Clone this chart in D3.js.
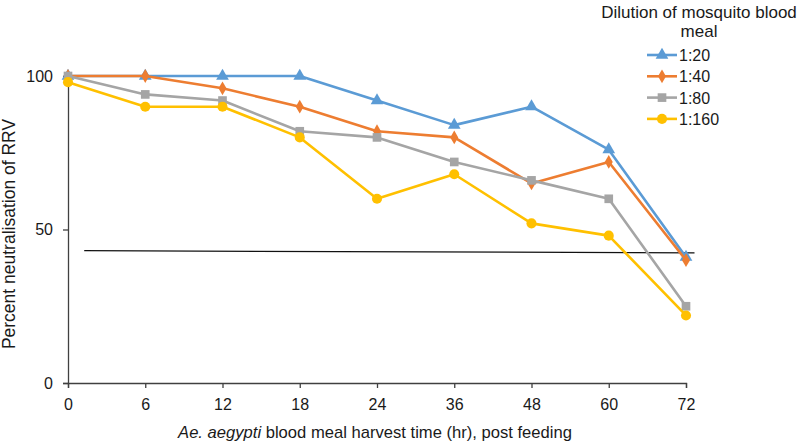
<!DOCTYPE html>
<html>
<head>
<meta charset="utf-8">
<script src="https://cdn.jsdelivr.net/npm/d3@7"></script>
<style>
  body { margin: 0; background: #fff; }
  svg { font-family: "Liberation Sans", Arial, sans-serif; }
</style>
</head>
<body>
<div id="chart"></div>
<script>
// harvest times (hr), plotted as evenly spaced categories
const times = ["0", "6", "12", "18", "24", "36", "48", "60", "72"];

const dil20  = [100, 100, 100, 100, 92, 84, 90, 76, 41];
const dil40  = [100, 100, 96, 90, 82, 80, 65, 72, 40];
const dil80  = [100, 94, 92, 82, 80, 72, 66, 60, 25];
const dil160 = [98, 90, 90, 80, 60, 68, 52, 48, 22];

const seriesNames = ["1:20", "1:40", "1:80", "1:160"];
const yTicks = [0, 50, 100];

// hand drawn reference line (category index, percent)
const refLine = [[0.21, 43.1], [8.11, 42.4]];

const W = 800, H = 447;
const margin = {top: 76, right: 114, bottom: 64, left: 68};
const width = W - margin.left - margin.right;
const height = H - margin.top - margin.bottom;

const colors = ["#5b9bd5", "#ed7d31", "#a5a5a5", "#ffc000"];
const shapes = [d3.symbolTriangle, d3.symbolDiamond, d3.symbolSquare, d3.symbolCircle];
const sizes = [70, 55, 75, 80];

const series = [dil20, dil40, dil80, dil160].map((vals, k) => ({
  name: seriesNames[k],
  color: colors[k],
  shape: shapes[k],
  size: sizes[k],
  values: vals.map((v, i) => ({t: times[i], v: v}))
}));

const svg = d3.select("#chart").append("svg")
  .attr("width", W)
  .attr("height", H);

const g = svg.append("g")
  .attr("transform", `translate(${margin.left},${margin.top})`);

const x = d3.scalePoint().domain(times).range([0, width]);
const xi = d3.scaleLinear().domain([0, times.length - 1]).range([0, width]);
const y = d3.scaleLinear().domain([0, 100]).range([height, 0]);

// axes
const xAxis = g.append("g")
  .attr("transform", `translate(0,${height})`)
  .call(d3.axisBottom(x).tickSizeOuter(0).tickSize(5).tickPadding(11));

const yAxis = g.append("g")
  .call(d3.axisLeft(y).tickValues(yTicks).tickSizeOuter(0).tickSize(5).tickPadding(10));

[xAxis, yAxis].forEach(a => {
  a.select(".domain").attr("stroke", "#404040").attr("stroke-width", 1.3);
  a.selectAll(".tick line").attr("stroke", "#404040").attr("stroke-width", 1.3);
  a.selectAll(".tick text").attr("font-size", 16).attr("fill", "#1a1a1a")
    .attr("font-family", "Liberation Sans, Arial, sans-serif");
});

// threshold line
g.append("line")
  .attr("x1", xi(refLine[0][0])).attr("y1", y(refLine[0][1]))
  .attr("x2", xi(refLine[1][0])).attr("y2", y(refLine[1][1]))
  .attr("stroke", "#111").attr("stroke-width", 1.3);

const line = d3.line()
  .x(d => x(d.t))
  .y(d => y(d.v));

series.forEach(s => {
  g.append("path")
    .datum(s.values)
    .attr("fill", "none")
    .attr("stroke", s.color)
    .attr("stroke-width", 2.6)
    .attr("stroke-linejoin", "round")
    .attr("d", line);

  g.selectAll(null)
    .data(s.values)
    .enter()
    .append("path")
    .attr("transform", d => `translate(${x(d.t)},${y(d.v)})`)
    .attr("d", d3.symbol().type(s.shape).size(s.size))
    .attr("fill", s.color);
});

// axis titles
svg.append("text")
  .attr("transform", "translate(15,234) rotate(-90)")
  .attr("text-anchor", "middle")
  .attr("font-size", 17.5)
  .attr("fill", "#1a1a1a")
  .text("Percent neutralisation of RRV");

const xt = svg.append("text")
  .attr("x", 375)
  .attr("y", 438)
  .attr("text-anchor", "middle")
  .attr("font-size", 16.6)
  .attr("fill", "#1a1a1a");
xt.append("tspan").attr("font-style", "italic").text("Ae. aegypti");
xt.append("tspan").text(" blood meal harvest time (hr), post feeding");

// legend
const legend = svg.append("g");
legend.append("text")
  .attr("x", 699).attr("y", 18)
  .attr("text-anchor", "middle")
  .attr("font-size", 17).attr("fill", "#1a1a1a")
  .text("Dilution of mosquito blood");
legend.append("text")
  .attr("x", 699).attr("y", 37)
  .attr("text-anchor", "middle")
  .attr("font-size", 17).attr("fill", "#1a1a1a")
  .text("meal");

series.forEach((s, k) => {
  const ly = 55 + k * 21.3;
  legend.append("line")
    .attr("x1", 647).attr("x2", 677)
    .attr("y1", ly).attr("y2", ly)
    .attr("stroke", s.color).attr("stroke-width", 2.6);
  legend.append("path")
    .attr("transform", `translate(662,${ly})`)
    .attr("d", d3.symbol().type(s.shape).size(s.size))
    .attr("fill", s.color);
  legend.append("text")
    .attr("x", 679).attr("y", ly + 6)
    .attr("font-size", 16).attr("fill", "#1a1a1a")
    .text(s.name);
});
</script>
</body>
</html>
